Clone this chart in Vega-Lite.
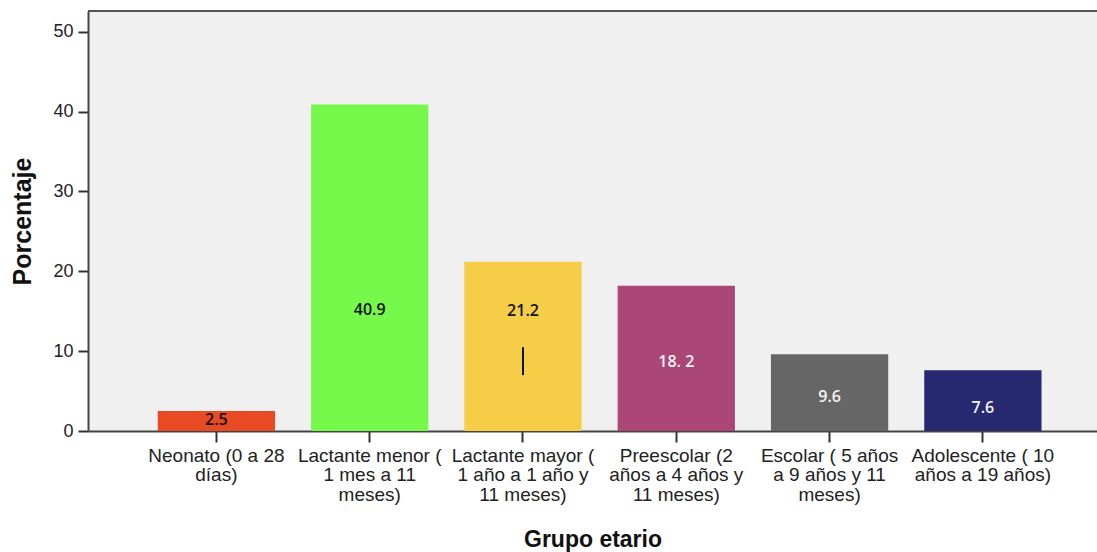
{
  "$schema": "https://vega.github.io/schema/vega-lite/v6.json",
  "autosize": {"type": "none"},
  "padding": {"left": 88, "top": 11, "right": 0, "bottom": 121},
  "width": 1009,
  "height": 420,
  "background": "#ffffff",
  "config": {
    "view": {"fill": "#f0f0f0", "stroke": null},
    "font": "Liberation Sans",
    "axis": {
      "grid": false,
      "domainColor": "#444444",
      "domainWidth": 2,
      "tickColor": "#333333",
      "tickWidth": 2,
      "tickSize": 11,
      "labelColor": "#222222",
      "labelFont": "Liberation Sans",
      "labelFontSize": 18,
      "titleFont": "Liberation Sans",
      "titleFontWeight": "bold",
      "titleColor": "#111111"
    },
    "text": {"font": "Open Sans", "fontSize": 16, "fontWeight": 600}
  },
  "data": {
    "values": [
      {"grupo": "Neonato (0 a 28 días)", "pct": 2.5, "etiqueta": "2.5"},
      {"grupo": "Lactante menor ( 1 mes a 11 meses)", "pct": 40.9, "etiqueta": "40.9"},
      {"grupo": "Lactante mayor ( 1 año a 1 año y 11 meses)", "pct": 21.2, "etiqueta": "21.2"},
      {"grupo": "Preescolar (2 años a 4 años y 11 meses)", "pct": 18.2, "etiqueta": "18. 2"},
      {"grupo": "Escolar ( 5 años a 9 años y 11 meses)", "pct": 9.6, "etiqueta": "9.6"},
      {"grupo": "Adolescente ( 10 años a 19 años)", "pct": 7.6, "etiqueta": "7.6"}
    ]
  },
  "layer": [
    {
      "mark": {"type": "bar"},
      "encoding": {
        "x": {
          "field": "grupo",
          "type": "nominal",
          "sort": null,
          "scale": {"paddingInner": 0.235, "paddingOuter": 0.4085, "align": 0.557},
          "axis": {
            "title": "Grupo etario",
            "titleFontSize": 23,
            "titlePadding": 24,
            "labelAngle": 0,
            "labelPadding": 4,
            "labelFontSize": 19,
            "labelLimit": 0,
            "labelOverlap": false,
            "labelBound": false,
            "labelLineHeight": 19.5,
            "labelBaseline": "top",
            "labelExpr": "datum.label == 'Neonato (0 a 28 días)' ? ['Neonato (0 a 28', 'días)'] : datum.label == 'Lactante menor ( 1 mes a 11 meses)' ? ['Lactante menor (', '1 mes a 11', 'meses)'] : datum.label == 'Lactante mayor ( 1 año a 1 año y 11 meses)' ? ['Lactante mayor (', '1 año a 1 año y', '11 meses)'] : datum.label == 'Preescolar (2 años a 4 años y 11 meses)' ? ['Preescolar (2', 'años a 4 años y', '11 meses)'] : datum.label == 'Escolar ( 5 años a 9 años y 11 meses)' ? ['Escolar ( 5 años', 'a 9 años y 11', 'meses)'] : ['Adolescente ( 10', 'años a 19 años)']"
          }
        },
        "y": {
          "field": "pct",
          "type": "quantitative",
          "scale": {"domain": [0, 52.6], "nice": false},
          "axis": {
            "title": "Porcentaje",
            "titleFontSize": 25,
            "titlePadding": 17,
            "values": [0, 10, 20, 30, 40, 50],
            "tickSize": 10,
            "labelPadding": 5
          }
        },
        "color": {
          "field": "grupo",
          "type": "nominal",
          "legend": null,
          "scale": {
            "domain": [
              "Neonato (0 a 28 días)",
              "Lactante menor ( 1 mes a 11 meses)",
              "Lactante mayor ( 1 año a 1 año y 11 meses)",
              "Preescolar (2 años a 4 años y 11 meses)",
              "Escolar ( 5 años a 9 años y 11 meses)",
              "Adolescente ( 10 años a 19 años)"
            ],
            "range": ["#e84a24", "#77f94b", "#f6cd47", "#aa4777", "#666666", "#262870"]
          }
        }
      }
    },
    {
      "mark": {"type": "rule", "color": "#555555", "strokeWidth": 2},
      "encoding": {"y": {"datum": 52.6}}
    },
    {
      "transform": [{"filter": "datum.pct == 21.2"}],
      "mark": {"type": "rule", "color": "#111111", "strokeWidth": 2},
      "encoding": {"x": {"field": "grupo", "type": "nominal", "sort": null}, "y": {"datum": 7.0}, "y2": {"datum": 10.5}}
    },
    {
      "transform": [{"filter": "datum.pct == 2.5"}],
      "mark": {"type": "text", "color": "#111111"},
      "encoding": {"x": {"field": "grupo", "type": "nominal", "sort": null}, "y": {"datum": 1.4}, "text": {"field": "etiqueta"}}
    },
    {
      "transform": [{"filter": "datum.pct == 40.9"}],
      "mark": {"type": "text", "color": "#111111"},
      "encoding": {"x": {"field": "grupo", "type": "nominal", "sort": null}, "y": {"datum": 15.1}, "text": {"field": "etiqueta"}}
    },
    {
      "transform": [{"filter": "datum.pct == 21.2"}],
      "mark": {"type": "text", "color": "#111111"},
      "encoding": {"x": {"field": "grupo", "type": "nominal", "sort": null}, "y": {"datum": 15.0}, "text": {"field": "etiqueta"}}
    },
    {
      "transform": [{"filter": "datum.pct == 18.2"}],
      "mark": {"type": "text", "color": "#f4f4f4"},
      "encoding": {"x": {"field": "grupo", "type": "nominal", "sort": null}, "y": {"datum": 8.6}, "text": {"field": "etiqueta"}}
    },
    {
      "transform": [{"filter": "datum.pct == 9.6"}],
      "mark": {"type": "text", "color": "#f4f4f4"},
      "encoding": {"x": {"field": "grupo", "type": "nominal", "sort": null}, "y": {"datum": 4.3}, "text": {"field": "etiqueta"}}
    },
    {
      "transform": [{"filter": "datum.pct == 7.6"}],
      "mark": {"type": "text", "color": "#f4f4f4"},
      "encoding": {"x": {"field": "grupo", "type": "nominal", "sort": null}, "y": {"datum": 2.9}, "text": {"field": "etiqueta"}}
    }
  ]
}
